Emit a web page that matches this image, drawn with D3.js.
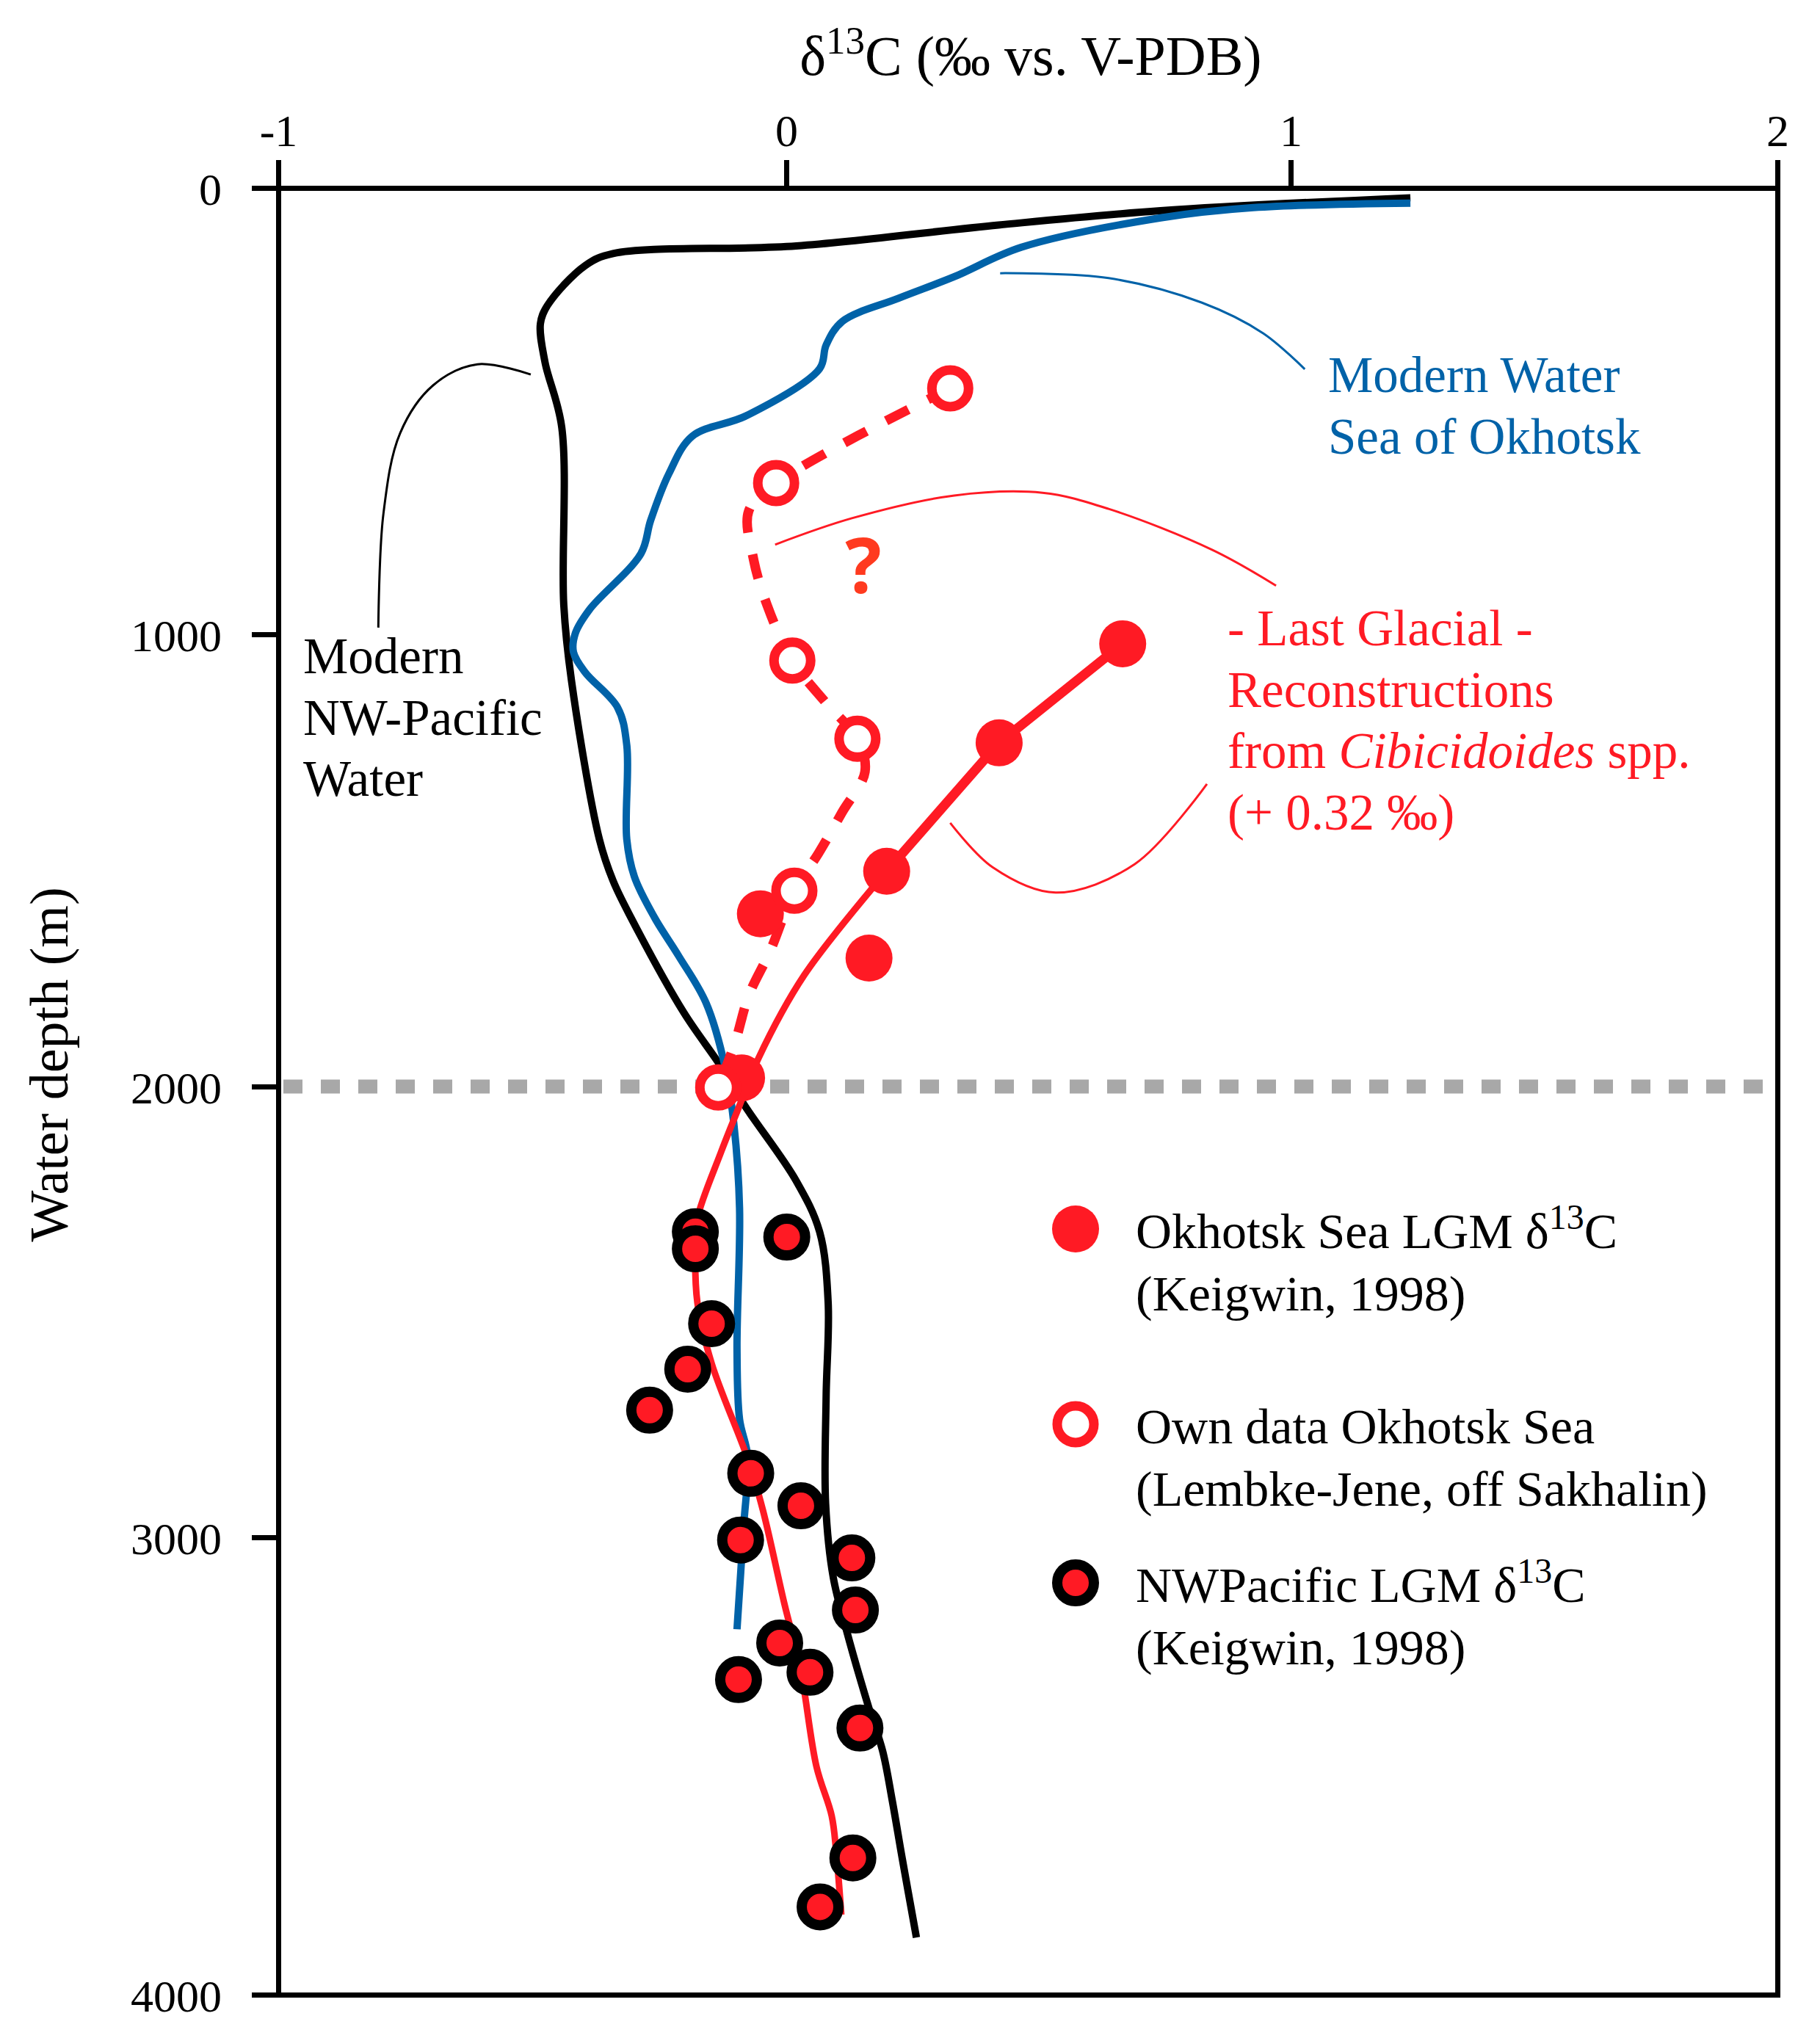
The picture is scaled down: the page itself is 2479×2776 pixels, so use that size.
<!DOCTYPE html>
<html>
<head>
<meta charset="utf-8">
<script src="https://cdn.jsdelivr.net/npm/d3@7"></script>
<style>
  body { margin: 0; background: #fff; }
  svg text { font-family: "Liberation Serif", "DejaVu Serif", serif; }
</style>
</head>
<body>
<div id="chart"></div>
<script>
// tick values
const xTicks = [-1, 0, 1, 2];
const yTicks = [0, 1000, 2000, 3000, 4000];

// modern NW-Pacific water profile [d13C, depth]
const nwPacificWater = [[1.246, 22], [0.742, 51], [0.421, 83], [0.02, 130], [-0.341, 147], [-0.396, 174],
  [-0.47, 263], [-0.484, 304], [-0.475, 390], [-0.442, 536], [-0.438, 934], [-0.423, 1101], [-0.368, 1453],
  [-0.341, 1545], [-0.305, 1628], [-0.202, 1836], [-0.129, 1955], [-0.082, 2042], [0.019, 2208],
  [0.066, 2322], [0.083, 2479], [0.079, 2687], [0.078, 2925], [0.093, 3087], [0.119, 3202], [0.164, 3374],
  [0.191, 3467], [0.21, 3575], [0.23, 3703], [0.258, 3875]];

// modern Sea of Okhotsk water profile
const okhotskWater = [[1.246, 34], [0.926, 44], [0.742, 67], [0.466, 133], [0.333, 199], [0.223, 247],
  [0.111, 299], [0.079, 352], [0.066, 405], [-0.078, 510], [-0.185, 556], [-0.231, 640], [-0.267, 745],
  [-0.286, 819], [-0.387, 944], [-0.415, 997], [-0.419, 1039], [-0.396, 1084], [-0.332, 1162],
  [-0.314, 1245], [-0.314, 1453], [-0.299, 1536], [-0.259, 1627], [-0.212, 1711], [-0.158, 1815],
  [-0.12, 1959], [-0.103, 2085], [-0.092, 2270], [-0.097, 2583], [-0.092, 2738], [-0.076, 2821],
  [-0.084, 2977], [-0.097, 3201]];

// Okhotsk Sea LGM (Keigwin, 1998)
const okhotskLGM = [[0.667, 1021], [0.422, 1240], [0.199, 1524], [-0.051, 1618], [0.164, 1716], [-0.088, 1981]];

// glacial reconstruction line below the third point
const glacialFit = [[0.199, 1524], [0.036, 1753], [-0.055, 1938], [-0.092, 2042], [-0.129, 2147],
  [-0.175, 2292], [-0.179, 2353], [-0.175, 2479], [-0.147, 2614], [-0.074, 2832], [-0.046, 2940],
  [-0.004, 3144], [0.028, 3287], [0.06, 3502], [0.09, 3609], [0.099, 3688], [0.109, 3825]];

// own data Okhotsk Sea (Lembke-Jene)
const ownData = [[0.325, 449], [-0.02, 661], [0.012, 1058], [0.141, 1231], [0.016, 1567], [-0.134, 2002]];
const ownDataTrace = [[0.325, 449], [-0.02, 661], [-0.074, 724], [-0.065, 829], [-0.038, 934], [0.012, 1058],
  [0.079, 1152], [0.141, 1231], [0.156, 1304], [0.111, 1393], [0.064, 1484], [0.016, 1567],
  [-0.032, 1701], [-0.074, 1799], [-0.101, 1903], [-0.134, 2002]];

// NW Pacific LGM (Keigwin, 1998)
const nwPacificLGM = [[-0.179, 2322], [-0.179, 2360], [0.001, 2334], [-0.147, 2526], [-0.194, 2627],
  [-0.269, 2718], [-0.07, 2858], [0.029, 2930], [-0.09, 3006], [0.13, 3045], [0.137, 3159],
  [-0.013, 3231], [0.047, 3295], [-0.094, 3311], [0.146, 3417], [0.132, 3701], [0.067, 3808]];

// label leader curves
const leaderNW = [[-0.803, 985], [-0.793, 730], [-0.76, 549], [-0.695, 442], [-0.608, 395], [-0.503, 418]];
const leaderBlue = [[0.424, 191], [0.639, 202], [0.824, 257], [0.946, 326], [1.029, 406]];
const leaderRedTop = [[-0.022, 799], [0.13, 740], [0.333, 689], [0.508, 683], [0.639, 719], [0.845, 811], [0.971, 891]];
const leaderRedBottom = [[0.325, 1417], [0.409, 1515], [0.534, 1571], [0.691, 1508], [0.834, 1331]];

const RED = "#ff1a24", BLUE = "#0062a8", GREY = "#a8a8a8";

const width = 2479, height = 2776;
const svg = d3.select("#chart").append("svg")
    .attr("width", width)
    .attr("height", height);

// the original axis is drawn by hand, so the tick spacing is slightly uneven
const x = d3.scaleLinear().domain(xTicks).range([379, 1071, 1758, 2421]);
const y = d3.scaleLinear().domain(yTicks).range([256, 864, 1480, 2094, 2717]);

const line = d3.line().x(d => x(d[0])).y(d => y(d[1]));
const curve = d3.line().x(d => x(d[0])).y(d => y(d[1])).curve(d3.curveCatmullRom.alpha(0.5));
const plain = d => String(d);   // hyphen minus, no thousands separator

// 2000 m reference
svg.append("line")
    .attr("x1", x(-1) + 7).attr("x2", x(2))
    .attr("y1", y(2000)).attr("y2", y(2000))
    .attr("stroke", GREY).attr("stroke-width", 19)
    .attr("stroke-dasharray", "26,25");

// axes
svg.append("g")
    .attr("transform", `translate(0,${y(0)})`)
    .call(d3.axisTop(x).tickValues(xTicks).tickFormat(plain)
      .tickSize(38).tickSizeOuter(0).tickPadding(19));
const leftAxis = svg.append("g")
    .attr("transform", `translate(${x(-1)},0)`)
    .call(d3.axisLeft(y).tickValues(yTicks).tickFormat(plain)
      .tickSize(36).tickSizeOuter(0).tickPadding(41));
svg.append("g")
    .attr("transform", `translate(0,${y(4000)})`)
    .call(d3.axisBottom(x).tickValues([]).tickSizeOuter(0));
svg.append("g")
    .attr("transform", `translate(${x(2)},0)`)
    .call(d3.axisRight(y).tickValues([]).tickSizeOuter(0));

svg.selectAll(".domain, .tick line")
    .attr("stroke", "#000")
    .attr("stroke-width", 7)
    .attr("stroke-linecap", "square");
svg.selectAll(".tick line").attr("stroke-linecap", "butt");
svg.selectAll(".tick text")
    .attr("font-size", 62)
    .attr("fill", "#000");
leftAxis.selectAll(".tick text").attr("dy", "0.36em");

// axis titles
svg.append("text")
    .attr("x", 1404).attr("y", 102)
    .attr("text-anchor", "middle")
    .attr("font-size", 76)
    .call(t => {
      t.append("tspan").text("δ");
      t.append("tspan").attr("font-size", 53).attr("dy", -29).text("13");
      t.append("tspan").attr("dy", 29).text("C (‰ vs. V-PDB)");
    });

svg.append("text")
    .attr("transform", "translate(92,1450) rotate(-90)")
    .attr("text-anchor", "middle")
    .attr("font-size", 74)
    .text("Water depth (m)");

// profiles
svg.append("path").datum(nwPacificWater)
    .attr("d", curve).attr("fill", "none")
    .attr("stroke", "#000").attr("stroke-width", 10).attr("stroke-linejoin", "round");
svg.append("path").datum(okhotskWater)
    .attr("d", curve).attr("fill", "none")
    .attr("stroke", BLUE).attr("stroke-width", 10).attr("stroke-linejoin", "round");

svg.append("path").datum(glacialFit)
    .attr("d", curve).attr("fill", "none")
    .attr("stroke", RED).attr("stroke-width", 9);
svg.append("path").datum(okhotskLGM.slice(0, 3))
    .attr("d", line).attr("fill", "none")
    .attr("stroke", RED).attr("stroke-width", 13);
svg.append("path").datum(ownDataTrace)
    .attr("d", curve).attr("fill", "none")
    .attr("stroke", RED).attr("stroke-width", 13)
    .attr("stroke-dasharray", "34,30");

// leader curves
const leaders = [[leaderNW, "#000"], [leaderBlue, BLUE], [leaderRedTop, RED], [leaderRedBottom, RED]];
leaders.forEach(([pts, col]) => {
  svg.append("path").datum(pts)
      .attr("d", curve).attr("fill", "none")
      .attr("stroke", col).attr("stroke-width", 3);
});

// points
svg.selectAll(".nw-lgm").data(nwPacificLGM).enter().append("circle")
    .attr("class", "nw-lgm")
    .attr("cx", d => x(d[0])).attr("cy", d => y(d[1])).attr("r", 25)
    .attr("fill", RED).attr("stroke", "#000").attr("stroke-width", 14);
svg.selectAll(".okh-lgm").data(okhotskLGM).enter().append("circle")
    .attr("class", "okh-lgm")
    .attr("cx", d => x(d[0])).attr("cy", d => y(d[1])).attr("r", 32)
    .attr("fill", RED);
svg.selectAll(".own").data(ownData).enter().append("circle")
    .attr("class", "own")
    .attr("cx", d => x(d[0])).attr("cy", d => y(d[1])).attr("r", 25)
    .attr("fill", "#fff").attr("stroke", RED).attr("stroke-width", 13);

// question mark
svg.append("text")
    .attr("x", 1176).attr("y", 808)
    .attr("text-anchor", "middle")
    .style("font-family", "'Open Sans', 'DejaVu Sans', sans-serif")
    .attr("font-weight", "bold")
    .attr("font-size", 104).attr("fill", "#ff3a1f")
    .text("?");

// annotations
function lines(xPos, yPos, rows, color, size) {
  const t = svg.append("text").attr("x", xPos).attr("y", yPos)
      .attr("font-size", size).attr("fill", color);
  rows.forEach((row, i) => {
    const parts = Array.isArray(row) ? row : [[row]];
    parts.forEach((p, j) => {
      const s = t.append("tspan").text(p[0]);
      if (j === 0) s.attr("x", xPos).attr("dy", i === 0 ? 0 : 83.5);
      if (p[1]) s.attr("font-style", "italic");
    });
  });
}
lines(413, 917, ["Modern", "NW-Pacific", "Water"], "#000", 69);
lines(1809, 534, ["Modern Water", "Sea of Okhotsk"], BLUE, 69);
lines(1672, 879, ["- Last Glacial -", "Reconstructions",
  [["from "], ["Cibicidoides", true], [" spp."]], "(+ 0.32 ‰)"], RED, 69);

// legend
const legendItems = [
  {y: 1674, kind: "filled", rows: [["Okhotsk Sea LGM δ", "13", "C"], ["(Keigwin, 1998)"]]},
  {y: 1940, kind: "open", rows: [["Own data Okhotsk Sea"], ["(Lembke-Jene, off Sakhalin)"]]},
  {y: 2156, kind: "ring", rows: [["NWPacific LGM δ", "13", "C"], ["(Keigwin, 1998)"]]}
];
const legend = svg.append("g");
legendItems.forEach(item => {
  const c = legend.append("circle").attr("cx", 1465).attr("cy", item.y);
  if (item.kind === "filled") c.attr("r", 32).attr("fill", RED);
  if (item.kind === "open") c.attr("r", 25).attr("fill", "#fff").attr("stroke", RED).attr("stroke-width", 13);
  if (item.kind === "ring") c.attr("r", 25).attr("fill", RED).attr("stroke", "#000").attr("stroke-width", 14);
  const t = legend.append("text").attr("x", 1547).attr("y", item.y + 26).attr("font-size", 68);
  item.rows.forEach((row, i) => {
    t.append("tspan").attr("x", 1547).attr("dy", i === 0 ? 0 : 85).text(row[0]);
    if (row.length > 1) {
      t.append("tspan").attr("font-size", 48).attr("dy", -26).text(row[1]);
      t.append("tspan").attr("dy", 26).text(row[2]);
    }
  });
});
</script>
</body>
</html>
